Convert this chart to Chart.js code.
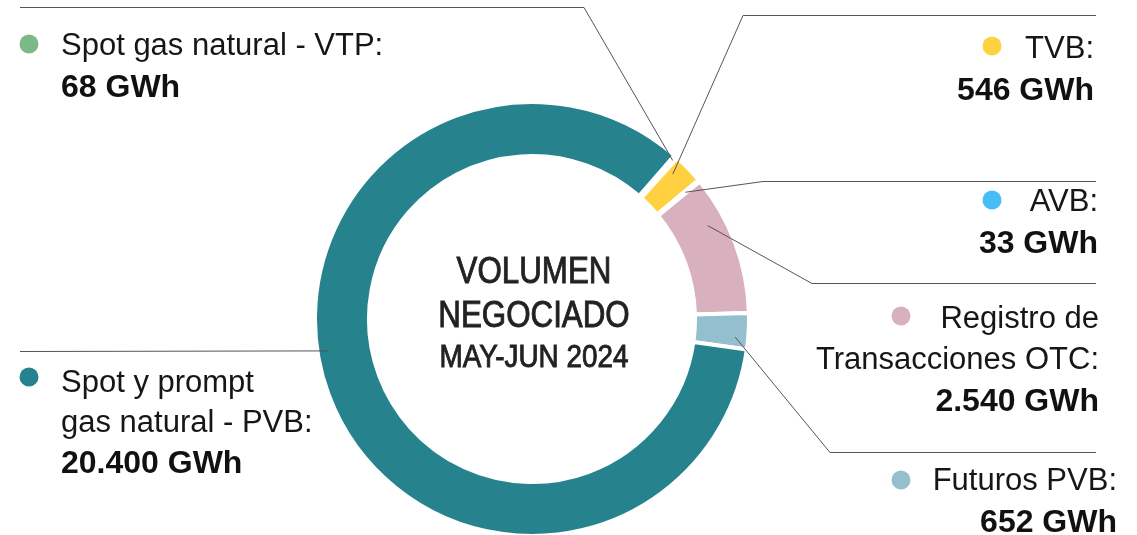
<!DOCTYPE html>
<html>
<head>
<meta charset="utf-8">
<script src="https://cdn.jsdelivr.net/npm/chart.js@4"></script>
<style>
  html, body { margin: 0; padding: 0; background: #ffffff; }
  #wrap { position: relative; width: 1137px; height: 535px; }
</style>
</head>
<body>
<div id="wrap"><canvas id="volumen"></canvas></div>
<script>
// Datos del gráfico (GWh negociados, may-jun 2024)
const categories = [
  ['Spot gas natural - VTP'],
  ['TVB'],
  ['AVB'],
  ['Registro de', 'Transacciones OTC'],
  ['Futuros PVB'],
  ['Spot y prompt', 'gas natural - PVB']
];
const volumesGWh = [68, 546, 33, 2540, 652, 20400];
const centerTitle = ['VOLUMEN', 'NEGOCIADO', 'MAY-JUN 2024'];

// Colores de cada segmento
const segmentColors = ['#7db887', '#ffd140', '#45bdf7', '#d9b0be', '#93bfcf', '#26838e'];

// Posición de las etiquetas y líneas guía (solo maquetación)
const callouts = [
  { at: 0.5,  inset: 5,  elbow: [584, 7],   lineTo: 20,   side: 'left',  textX: 61,   base: [55, 97],       dot: [29, 44] },
  { at: 0.26, inset: 15, elbow: [743, 15],  lineTo: 1096, side: 'right', textX: 1094, base: [58, 100],      dot: [992, 46] },
  { at: 0.5,  inset: 18, elbow: [763, 181], lineTo: 1096, side: 'right', textX: 1098, base: [211, 253],     dot: [992, 200] },
  { at: 0.3,  inset: 18, elbow: [812, 283], lineTo: 1096, side: 'right', textX: 1099, base: [328, 369, 411], dot: [901, 316] },
  { at: 0.69, inset: 13, elbow: [830, 452], lineTo: 1096, side: 'right', textX: 1117, base: [490, 532],     dot: [901, 480] },
  { at: 0.538, inset: 11, elbow: null,      lineTo: 20,   side: 'left',  textX: 61,   base: [392, 432, 473], dot: [29, 377] }
];

const FONT = '"Liberation Sans", Arial, sans-serif';

// 20400 -> "20.400 GWh"
function formatGWh(v) {
  return String(v).replace(/\B(?=(\d{3})+(?!\d))/g, '.') + ' GWh';
}

const calloutPlugin = {
  id: 'callouts',
  afterDraw(chart) {
    const ctx = chart.ctx;
    const arcs = chart.getDatasetMeta(0).data;

    ctx.save();
    // líneas guía
    ctx.strokeStyle = '#555555';
    ctx.lineWidth = 1;
    arcs.forEach((arc, i) => {
      const c = callouts[i];
      const p = arc.getProps(['x', 'y', 'startAngle', 'endAngle', 'outerRadius'], true);
      const ang = p.startAngle + c.at * (p.endAngle - p.startAngle);
      const r = p.outerRadius - c.inset;
      const ax = p.x + r * Math.cos(ang);
      const ay = p.y + r * Math.sin(ang);
      ctx.beginPath();
      ctx.moveTo(ax, ay);
      if (c.elbow) {
        ctx.lineTo(c.elbow[0], c.elbow[1] + 0.5);
        ctx.lineTo(c.lineTo, c.elbow[1] + 0.5);
      } else {
        ctx.lineTo(c.lineTo, Math.round(ay) + 0.5);
      }
      ctx.stroke();
    });

    // etiquetas
    ctx.textBaseline = 'alphabetic';
    categories.forEach((lines, i) => {
      const c = callouts[i];
      ctx.textAlign = c.side === 'left' ? 'left' : 'right';
      ctx.fillStyle = '#161616';
      ctx.font = '31px ' + FONT;
      lines.forEach((txt, k) => {
        const last = k === lines.length - 1;
        ctx.fillText(txt + (last ? ':' : ''), c.textX, c.base[k]);
      });
      ctx.font = 'bold 32px ' + FONT;
      ctx.fillStyle = '#111111';
      ctx.fillText(formatGWh(volumesGWh[i]), c.textX, c.base[lines.length]);

      ctx.fillStyle = segmentColors[i];
      ctx.beginPath();
      ctx.arc(c.dot[0], c.dot[1], 9.5, 0, Math.PI * 2);
      ctx.fill();
    });

    // texto central (algo más grueso que la letra normal)
    const cx = arcs[0].x, cy = arcs[0].y;
    ctx.fillStyle = '#222222';
    ctx.strokeStyle = '#222222';
    ctx.lineWidth = 0.9;
    ctx.textAlign = 'center';
    const centerLines = [
      { t: centerTitle[0], size: 36, dy: -36 },
      { t: centerTitle[1], size: 36, dy: 8 },
      { t: centerTitle[2], size: 32, dy: 48 }
    ];
    centerLines.forEach(l => {
      ctx.save();
      ctx.translate(cx + 2, cy + l.dy);
      ctx.scale(0.87, 1);
      ctx.font = l.size + 'px ' + FONT;
      ctx.fillText(l.t, 0, 0);
      ctx.strokeText(l.t, 0, 0);
      ctx.restore();
    });
    ctx.restore();
  }
};

const ctx = document.getElementById('volumen').getContext('2d');
const grafico = new Chart(ctx, {
  type: 'doughnut',
  data: {
    labels: categories,
    datasets: [{
      data: volumesGWh,
      backgroundColor: segmentColors,
      borderColor: '#ffffff',
      borderWidth: 4,
      hoverOffset: 0
    }]
  },
  options: {
    responsive: true,
    maintainAspectRatio: false,
    animation: false,
    rotation: 41.07,
    radius: 217,
    cutout: 160,
    layout: { padding: { left: 317, right: 390, top: 104, bottom: 1 } },
    plugins: {
      legend: { display: false },
      tooltip: { enabled: false }
    }
  },
  plugins: [calloutPlugin]
});
</script>
</body>
</html>
